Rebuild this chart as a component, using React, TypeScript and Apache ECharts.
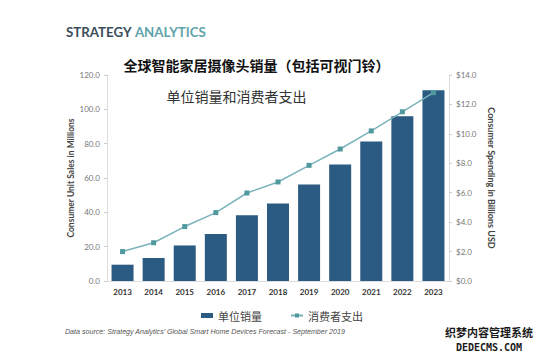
import React, { useEffect, useRef } from "react";
import * as echarts from "echarts";

const years = ["2013", "2014", "2015", "2016", "2017", "2018", "2019", "2020", "2021", "2022", "2023"];
const unitSales = [9.5, 13.4, 20.7, 27.4, 38.3, 45.1, 56.2, 67.8, 81.2, 95.9, 111.1];
const spending = [2.0, 2.6, 3.7, 4.65, 5.98, 6.73, 7.86, 8.97, 10.2, 11.5, 12.8];
const leftTicks = { min: 0, max: 120, interval: 20 };
const rightTicks = { min: 0, max: 14, interval: 2 };

const titleText = "全球智能家居摄像头销量（包括可视门铃）";
const subtitleText = "单位销量和消费者支出";
const barName = "单位销量";
const lineName = "消费者支出";
const leftAxisName = "Consumer Unit Sales in Millions";
const rightAxisName = "Consumer Spending in Billions USD";
const sourceText = "Data source: Strategy Analytics' Global Smart Home Devices Forecast - September 2019";

export default function App() {
  const ref = useRef<HTMLDivElement>(null);
  useEffect(() => {
    if (!ref.current) return;
    const chart = echarts.init(ref.current, null, { renderer: "svg" });
    const axisFont = "Lato, 'Open Sans', sans-serif";
    chart.setOption({
      animation: false,
      backgroundColor: "#ffffff",
      grid: { left: 107, right: 101, top: 75, bottom: 81, containLabel: false },
      legend: {
        data: [
          { name: barName, icon: "rect" },
          { name: lineName },
        ],
        left: 196,
        top: 305,
        itemWidth: 12,
        itemHeight: 5,
        itemGap: 28,
        textStyle: { fontSize: 11, color: "#444", fontFamily: "'Noto Sans CJK SC', sans-serif" },
      },
      xAxis: {
        type: "category",
        data: years,
        axisLine: { show: true, lineStyle: { color: "#dddddd" } },
        axisTick: { show: false },
        axisLabel: { color: "#333", fontSize: 8, fontWeight: "bold", fontFamily: axisFont, margin: 7 },
      },
      yAxis: [
        {
          type: "value",
          min: leftTicks.min,
          max: leftTicks.max,
          interval: leftTicks.interval,
          name: leftAxisName,
          nameLocation: "middle",
          nameGap: 32,
          nameRotate: 90,
          nameMoveOverlap: false,
          nameTextStyle: { fontSize: 8.5, fontWeight: "bold", color: "#444", fontFamily: axisFont },
          axisLine: { show: true, lineStyle: { color: "#dddddd" } },
          axisTick: { show: true, length: 3, lineStyle: { color: "#cccccc" } },
          splitLine: { show: false },
          axisLabel: {
            color: "#777",
            fontSize: 8,
            fontFamily: axisFont,
            margin: 7,
            formatter: (v: number) => v.toFixed(1),
          },
        },
        {
          type: "value",
          position: "right",
          min: rightTicks.min,
          max: rightTicks.max,
          interval: rightTicks.interval,
          name: rightAxisName,
          nameLocation: "middle",
          nameGap: 37,
          nameRotate: -90,
          nameTextStyle: { fontSize: 9, fontWeight: "bold", color: "#444", fontFamily: axisFont },
          axisLine: { show: true, lineStyle: { color: "#dddddd" } },
          axisTick: { show: true, length: 3, lineStyle: { color: "#cccccc" } },
          splitLine: { show: false },
          axisLabel: {
            color: "#777",
            fontSize: 8,
            fontFamily: axisFont,
            margin: 7,
            formatter: (v: number) => "$" + v.toFixed(1),
          },
        },
      ],
      series: [
        {
          name: barName,
          type: "bar",
          data: unitSales,
          barWidth: 22,
          itemStyle: { color: "#2b5a82" },
        },
        {
          name: lineName,
          type: "line",
          yAxisIndex: 1,
          data: spending,
          symbol: "rect",
          symbolSize: 5,
          lineStyle: { color: "#7ab3bd", width: 1.5 },
          itemStyle: { color: "#4f999f" },
        },
      ],
      graphic: [
        {
          type: "text",
          left: 66,
          top: 25,
          style: {
            text: "{a|STRATEGY} {b|ANALYTICS}",
            rich: {
              a: { fontSize: 13.3, fontWeight: "bold", fill: "#3b4d5a", fontFamily: "Lato, sans-serif" },
              b: { fontSize: 13.3, fontWeight: "bold", fill: "#5fa3aa", fontFamily: "Lato, sans-serif" },
            },
          },
        },
        {
          type: "text",
          x: 256.5,
          y: 65,
          style: {
            text: titleText,
            align: "center",
            verticalAlign: "middle",
            fontSize: 14,
            fontWeight: "bold",
            fill: "#111",
            fontFamily: "'Noto Sans CJK SC', sans-serif",
          },
        },
        {
          type: "text",
          x: 236.5,
          y: 96,
          style: {
            text: subtitleText,
            align: "center",
            verticalAlign: "middle",
            fontSize: 14,
            fill: "#333",
            fontFamily: "'Noto Sans CJK SC', sans-serif",
          },
        },
        {
          type: "text",
          x: 65,
          y: 332,
          style: {
            text: sourceText,
            align: "left",
            verticalAlign: "middle",
            fontSize: 7.1,
            fontStyle: "italic",
            fill: "#555",
            fontFamily: "'Liberation Sans', Arial, sans-serif",
          },
        },
        {
          type: "text",
          x: 489,
          y: 332,
          style: {
            text: "织梦内容管理系统",
            align: "center",
            verticalAlign: "middle",
            fontSize: 11,
            fontWeight: "bold",
            fill: "#1a1a1a",
            stroke: "#ffffff",
            lineWidth: 1,
            fontFamily: "'Noto Sans CJK SC', sans-serif",
          },
        },
        {
          type: "text",
          x: 489,
          y: 347,
          style: {
            text: "DEDECMS.COM",
            align: "center",
            verticalAlign: "middle",
            fontSize: 10,
            fontWeight: "bold",
            fill: "#1a1a1a",
            fontFamily: "'DejaVu Sans Mono', monospace",
          },
        },
      ],
    });
    return () => chart.dispose();
  }, []);
  return (
    <div
      ref={ref}
      style={{ position: "fixed", left: 0, top: 0, width: 550, height: 362 }}
    />
  );
}
